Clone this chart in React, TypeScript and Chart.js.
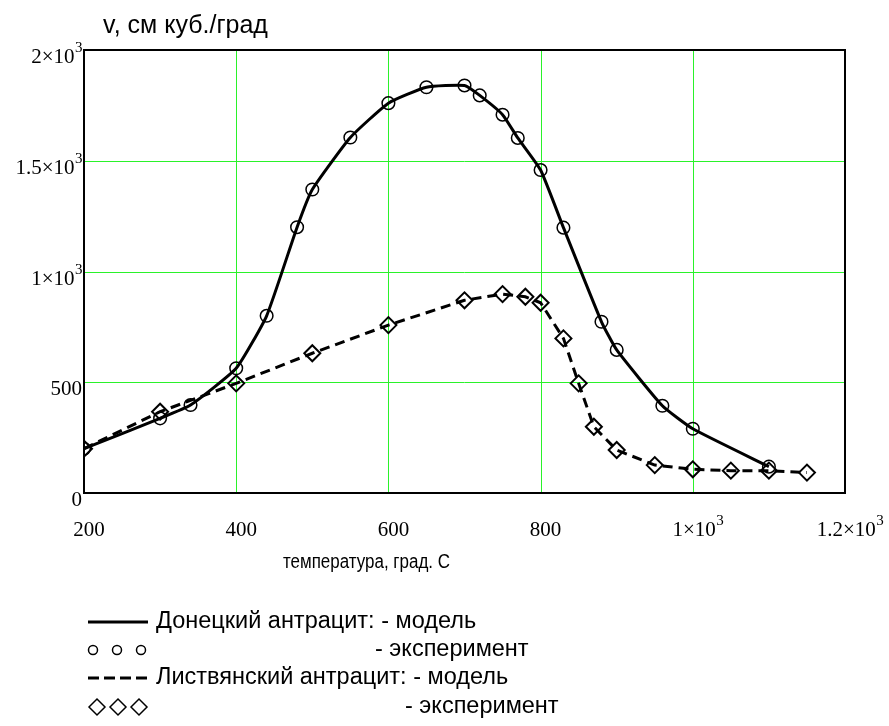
import React, { useEffect, useRef } from 'react';
import { Chart, registerables } from 'chart.js';

Chart.register(...registerables);

// Донецкий антрацит (эксперимент / модель)
const donetskTemp = [200, 300, 340, 400, 440, 480, 500, 550, 600, 650, 700, 720, 750, 770, 800, 830, 880, 900, 960, 1000, 1100];
const donetskV = [200, 337, 397, 563, 800, 1200, 1370, 1605, 1760, 1832, 1840, 1795, 1708, 1603, 1458, 1198, 773, 646, 394, 290, 119];

// Листвянский антрацит (эксперимент / модель)
const listTemp = [200, 300, 400, 500, 600, 700, 750, 780, 800, 830, 850, 870, 900, 950, 1000, 1050, 1100, 1150];
const listV = [200, 367, 495, 631, 758, 870, 898, 886, 859, 698, 495, 299, 194, 126, 107, 101, 101, 92];

// tick labels (mantissa + superscript exponent)
const xTickValues = [200, 400, 600, 800, 1000, 1200];
const xTickMantissa = ['200', '400', '600', '800', '1×10', '1.2×10'];
const xTickExponent = ['', '', '', '', '3', '3'];

const yTickValues = [0, 500, 1000, 1500, 2000];
const yTickMantissa = ['0', '500', '1×10', '1.5×10', '2×10'];
const yTickExponent = ['', '', '3', '3', '3'];

const yTitle = 'v, см куб./град';
const xTitle = 'температура, град. С';
const legendRows = [
  { kind: 'solid', text: 'Донецкий антрацит: - модель', textX: 156 },
  { kind: 'circles', text: '- эксперимент', textX: 375 },
  { kind: 'dashed', text: 'Листвянский антрацит: - модель', textX: 156 },
  { kind: 'diamonds', text: '- эксперимент', textX: 405 },
];

const SERIF = '"Liberation Serif", "DejaVu Serif", serif';
const SANS = '"Liberation Sans", Arial, sans-serif';
const GRID = '#2af22a';

const gridPlugin = {
  id: 'gridlines',
  beforeDatasetsDraw(chart: any) {
    const ctx: CanvasRenderingContext2D = chart.ctx;
    const { left, right, top, bottom } = chart.chartArea;
    const xs = chart.scales.x;
    const ys = chart.scales.y;
    ctx.save();
    ctx.strokeStyle = GRID;
    ctx.lineWidth = 1;
    xTickValues.forEach((v) => {
      const px = Math.round(xs.getPixelForValue(v)) + 0.5;
      ctx.beginPath();
      ctx.moveTo(px, top);
      ctx.lineTo(px, bottom);
      ctx.stroke();
    });
    yTickValues.forEach((v) => {
      const py = Math.round(ys.getPixelForValue(v)) + 0.5;
      ctx.beginPath();
      ctx.moveTo(left, py);
      ctx.lineTo(right, py);
      ctx.stroke();
    });
    ctx.restore();
  },
};

const overlayPlugin = {
  id: 'overlay',
  afterDraw(chart: any) {
    const ctx: CanvasRenderingContext2D = chart.ctx;
    const { left, right, top, bottom } = chart.chartArea;
    const xs = chart.scales.x;
    const ys = chart.scales.y;
    ctx.save();
    // frame
    ctx.strokeStyle = '#000';
    ctx.lineWidth = 2;
    ctx.setLineDash([]);
    ctx.strokeRect(left, top, right - left, bottom - top);

    ctx.fillStyle = '#000';
    ctx.textBaseline = 'alphabetic';
    ctx.textAlign = 'left';
    const mainFont = `21px ${SERIF}`;
    const supFont = `15px ${SERIF}`;
    const measure = (m: string, e: string) => {
      ctx.font = mainFont;
      const wm = ctx.measureText(m).width;
      ctx.font = supFont;
      const we = e ? ctx.measureText(e).width : 0;
      return [wm, we];
    };
    const drawLabel = (m: string, e: string, x0: number, base: number) => {
      const [wm] = measure(m, e);
      ctx.font = mainFont;
      ctx.fillText(m, x0, base);
      if (e) {
        ctx.font = supFont;
        ctx.fillText(e, x0 + wm + 0.5, base - 11);
      }
    };
    // x tick labels
    xTickValues.forEach((v, i) => {
      const px = xs.getPixelForValue(v);
      const [wm, we] = measure(xTickMantissa[i], xTickExponent[i]);
      const total = wm + we;
      drawLabel(xTickMantissa[i], xTickExponent[i], px + 5 - total / 2, bottom + 43);
    });
    // y tick labels
    yTickValues.forEach((v, i) => {
      const py = ys.getPixelForValue(v);
      const [wm, we] = measure(yTickMantissa[i], yTickExponent[i]);
      const total = wm + we;
      drawLabel(yTickMantissa[i], yTickExponent[i], left - 2 - total, Math.max(py + 13, top + 11));
    });

    // titles
    ctx.font = `25px ${SANS}`;
    ctx.fillText(yTitle, 103, 33);
    ctx.font = `20px ${SANS}`;
    const tw = ctx.measureText(xTitle).width;
    ctx.save();
    ctx.translate(283, 568);
    ctx.scale(167 / tw, 1);
    ctx.fillText(xTitle, 0, 0);
    ctx.restore();

    // legend
    const rowY = [622, 650, 678, 707];
    legendRows.forEach((row, i) => {
      const y = rowY[i];
      ctx.strokeStyle = '#000';
      if (row.kind === 'solid' || row.kind === 'dashed') {
        ctx.lineWidth = 3;
        ctx.setLineDash(row.kind === 'dashed' ? [11, 5] : []);
        ctx.beginPath();
        ctx.moveTo(88, y);
        ctx.lineTo(148, y);
        ctx.stroke();
        ctx.setLineDash([]);
      } else if (row.kind === 'circles') {
        ctx.lineWidth = 1.5;
        [93, 117, 141].forEach((cx) => {
          ctx.beginPath();
          ctx.arc(cx, y, 4.5, 0, Math.PI * 2);
          ctx.stroke();
        });
      } else {
        ctx.lineWidth = 1.5;
        [97, 118, 139].forEach((cx) => {
          ctx.beginPath();
          ctx.moveTo(cx - 8, y);
          ctx.lineTo(cx, y - 8);
          ctx.lineTo(cx + 8, y);
          ctx.lineTo(cx, y + 8);
          ctx.closePath();
          ctx.stroke();
        });
      }
      ctx.font = `23.5px ${SANS}`;
      ctx.textBaseline = 'middle';
      ctx.fillText(row.text, row.textX, y);
      ctx.textBaseline = 'alphabetic';
    });
    ctx.restore();
  },
};

export default function App() {
  const canvasRef = useRef<HTMLCanvasElement | null>(null);
  useEffect(() => {
    const canvas = canvasRef.current;
    if (!canvas) return;
    const toPts = (xsArr: number[], ysArr: number[]) => xsArr.map((x, i) => ({ x, y: ysArr[i] }));
    const chart = new Chart(canvas, {
      type: 'line',
      data: {
        datasets: [
          {
            label: 'Донецкий антрацит: - модель',
            data: toPts(donetskTemp, donetskV),
            borderColor: '#000',
            borderWidth: 3,
            pointRadius: 0,
            tension: 0.15,
            fill: false,
          },
          {
            label: 'Донецкий антрацит: - эксперимент',
            data: toPts(donetskTemp, donetskV),
            showLine: false,
            pointStyle: 'circle',
            pointRadius: 6.3,
            pointBorderWidth: 1.5,
            pointBorderColor: '#000',
            pointBackgroundColor: 'rgba(0,0,0,0)',
            borderColor: '#000',
          },
          {
            label: 'Листвянский антрацит: - модель',
            data: toPts(listTemp, listV),
            borderColor: '#000',
            borderWidth: 3,
            borderDash: [10, 6],
            pointRadius: 0,
            tension: 0,
            fill: false,
          },
          {
            label: 'Листвянский антрацит: - эксперимент',
            data: toPts(listTemp, listV),
            showLine: false,
            pointStyle: 'rectRot',
            pointRadius: 8,
            pointBorderWidth: 2,
            pointBorderColor: '#000',
            pointBackgroundColor: 'rgba(0,0,0,0)',
            borderColor: '#000',
          },
        ],
      } as any,
      options: {
        animation: false,
        responsive: false,
        devicePixelRatio: 1,
        layout: { padding: { left: 0, right: 44, top: 50, bottom: 233 } },
        plugins: { legend: { display: false }, tooltip: { enabled: false }, title: { display: false } },
        scales: {
          x: {
            type: 'linear',
            min: 200,
            max: 1200,
            ticks: { display: false, stepSize: 200 },
            grid: { display: false },
            border: { display: false },
            afterFit: (s: any) => { s.height = 0; },
          },
          y: {
            type: 'linear',
            min: 0,
            max: 2000,
            ticks: { display: false, stepSize: 500 },
            grid: { display: false },
            border: { display: false },
            afterFit: (s: any) => { s.width = 84; },
          },
        },
      } as any,
      plugins: [gridPlugin, overlayPlugin],
    });
    return () => chart.destroy();
  }, []);
  return (
    <div style={{ position: 'absolute', left: 0, top: 0, width: 889, height: 726, background: '#fff' }}>
      <canvas ref={canvasRef} width={889} height={726} style={{ display: 'block' }} />
    </div>
  );
}
